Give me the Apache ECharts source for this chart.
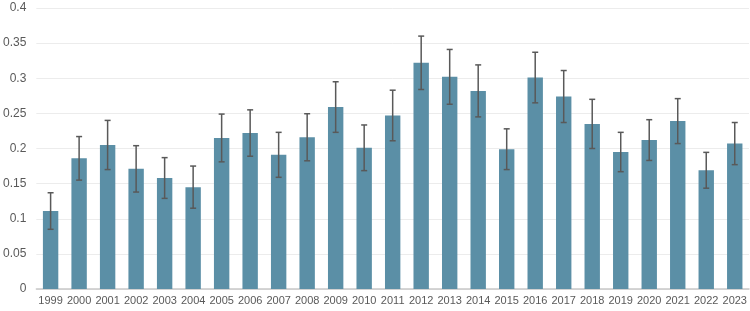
<!DOCTYPE html>
<html>
<head>
<meta charset="utf-8">
<script src="https://cdn.jsdelivr.net/npm/echarts@6/dist/echarts.min.js"></script>
<style>
  html, body { margin: 0; padding: 0; background: #fff; }
  #chart { width: 750px; height: 311px; }
</style>
</head>
<body>
<div id="chart"></div>
<script>
const years = ["1999", "2000", "2001", "2002", "2003", "2004", "2005", "2006", "2007", "2008",
  "2009", "2010", "2011", "2012", "2013", "2014", "2015", "2016", "2017", "2018",
  "2019", "2020", "2021", "2022", "2023"];
const values = [0.111, 0.186, 0.205, 0.171, 0.158, 0.145, 0.215, 0.222, 0.191, 0.216,
  0.259, 0.201, 0.247, 0.322, 0.302, 0.282, 0.199, 0.301, 0.274, 0.235,
  0.195, 0.212, 0.239, 0.169, 0.207];
// half width of the error bars
const errors = [0.026, 0.031, 0.035, 0.033, 0.029, 0.030, 0.034, 0.033, 0.032, 0.0335,
  0.036, 0.0325, 0.036, 0.038, 0.039, 0.037, 0.029, 0.036, 0.037, 0.035,
  0.028, 0.029, 0.032, 0.0255, 0.030];

const errData = values.map((v, i) => [i, v - errors[i], v + errors[i]]);

const chart = echarts.init(document.getElementById("chart"));

const option = {
  animation: false,
  textStyle: { fontFamily: "Liberation Sans" },
  grid: { left: 35, right: 1, top: 8, bottom: 22, containLabel: false },
  xAxis: {
    type: "category",
    data: years,
    axisTick: { show: false },
    axisLine: { lineStyle: { color: "#c8c8c8", width: 1.5 } },
    axisLabel: { interval: 0, color: "#595959", fontSize: 11, margin: 6 }
  },
  yAxis: {
    type: "value",
    min: 0,
    max: 0.4,
    interval: 0.05,
    axisLine: { show: false },
    axisTick: { show: false },
    axisLabel: { color: "#595959", fontSize: 12, margin: 10 },
    splitLine: { lineStyle: { color: "#ececec", width: 1 } }
  },
  series: [
    {
      type: "bar",
      data: values,
      barWidth: "54%",
      itemStyle: { color: "#5b8fa6" }
    },
    {
      type: "custom",
      data: errData,
      encode: { x: 0, y: [1, 2] },
      z: 10,
      renderItem: (params, api) => {
        const x = api.value(0);
        const lo = api.coord([x, api.value(1)]);
        const hi = api.coord([x, api.value(2)]);
        const cap = 3;
        const style = { stroke: "#595959", lineWidth: 1.5 };
        return {
          type: "group",
          children: [
            { type: "line", shape: { x1: lo[0], y1: lo[1], x2: hi[0], y2: hi[1] }, style: style },
            { type: "line", shape: { x1: hi[0] - cap, y1: hi[1], x2: hi[0] + cap, y2: hi[1] }, style: style },
            { type: "line", shape: { x1: lo[0] - cap, y1: lo[1], x2: lo[0] + cap, y2: lo[1] }, style: style }
          ]
        };
      }
    }
  ]
};

chart.setOption(option);
</script>
</body>
</html>
